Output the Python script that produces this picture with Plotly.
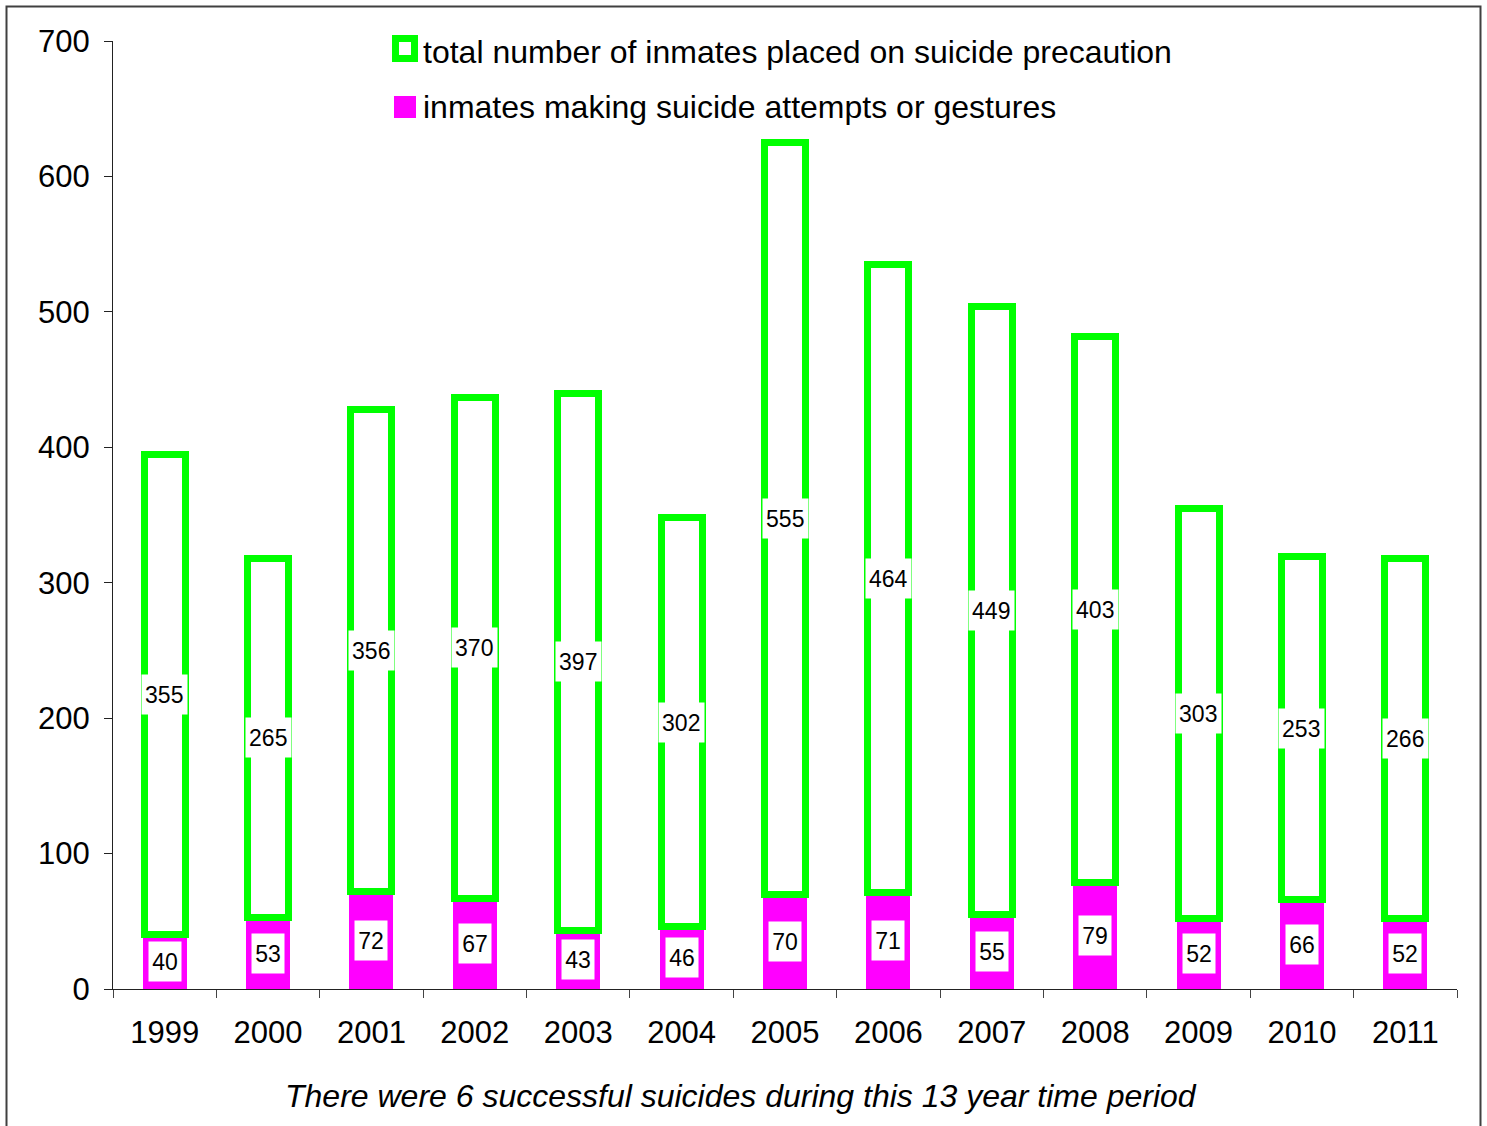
import plotly.graph_objects as go

# ---- data ----
years = ["1999", "2000", "2001", "2002", "2003", "2004", "2005",
         "2006", "2007", "2008", "2009", "2010", "2011"]
attempts = [40, 53, 72, 67, 43, 46, 70, 71, 55, 79, 52, 66, 52]
precaution = [355, 265, 356, 370, 397, 302, 555, 464, 449, 403, 303, 253, 266]
y_ticks = [0, 100, 200, 300, 400, 500, 600, 700]

legend_names = ["total number of inmates placed on suicide precaution",
                "inmates making suicide attempts or gestures"]
footer = "There were 6 successful suicides during this 13 year time period"

# ---- layout constants (pixels) ----
W, H = 1487, 1126
ML, MR, MT, MB = 113, 30, 41, 137
PW, PH = W - ML - MR, H - MT - MB
FONT = "Liberation Sans, Arial, sans-serif"
GREEN = "#00FF00"
MAGENTA = "#FF00FF"


def px(x):
    return (x - ML) / PW


def py(y):
    return (H - MB - y) / PH


fig = go.Figure()
fig.add_bar(x=years, y=attempts, name=legend_names[1], width=0.397,
            marker=dict(color=MAGENTA, line=dict(color=MAGENTA, width=3)))
fig.add_bar(x=years, y=precaution, name=legend_names[0], width=0.397,
            marker=dict(color="white", line=dict(color=GREEN, width=7)))

annotations = []


def label(i, y, val):
    t = str(val)
    annotations.append(dict(x=i, y=y, xref="x", yref="y", text=t, showarrow=False,
                            font=dict(family=FONT, size=23, color="black"),
                            bgcolor="white", borderpad=0,
                            width=len(t) * 12.5 + 7, height=39,
                            xanchor="center", yanchor="middle"))


for i, (a, p) in enumerate(zip(attempts, precaution)):
    label(i, a / 2, a)
    label(i, a + p / 2, p)

# custom legend
shapes = [
    dict(type="rect", xref="paper", yref="paper",
         x0=px(395.5), x1=px(414.5), y0=py(58.5), y1=py(38.5),
         line=dict(color=GREEN, width=7), fillcolor="white"),
    dict(type="rect", xref="paper", yref="paper",
         x0=px(394), x1=px(416), y0=py(118), y1=py(96),
         line=dict(width=0), fillcolor=MAGENTA),
    # outer frame
    dict(type="rect", xref="paper", yref="paper",
         x0=px(6.5), x1=px(1480.5), y0=py(1135), y1=py(6.5),
         line=dict(color="#404040", width=2), fillcolor="rgba(0,0,0,0)"),
]
annotations.append(dict(x=px(421), y=py(52), xref="paper", yref="paper",
                        text=legend_names[0], showarrow=False,
                        xanchor="left", yanchor="middle",
                        font=dict(family=FONT, size=32, color="black")))
annotations.append(dict(x=px(421), y=py(107), xref="paper", yref="paper",
                        text=legend_names[1], showarrow=False,
                        xanchor="left", yanchor="middle",
                        font=dict(family=FONT, size=32, color="black")))
annotations.append(dict(x=px(741), y=py(1096), xref="paper", yref="paper",
                        text=footer, showarrow=False,
                        xanchor="center", yanchor="middle",
                        font=dict(family=FONT, size=32, color="black", style="italic")))

fig.update_layout(
    width=W, height=H,
    margin=dict(l=ML, r=MR, t=MT, b=MB, pad=0),
    barmode="stack",
    showlegend=False,
    paper_bgcolor="white", plot_bgcolor="white",
    font=dict(family=FONT, size=31, color="black"),
    annotations=annotations,
    shapes=shapes,
    xaxis=dict(type="category", categoryorder="array", categoryarray=years,
               range=[-0.5, len(years) - 0.5], autorange=False,
               showline=True, linecolor="#222", linewidth=1,
               ticks="outside", tickson="boundaries", ticklen=8, tickcolor="#444",
               tickwidth=1, showgrid=False, zeroline=False, tickangle=0,
               tickfont=dict(family=FONT, size=31), ticklabelstandoff=16),
    yaxis=dict(range=[0, 700], autorange=False, tickvals=y_ticks, showline=True,
               linecolor="#222", linewidth=1, ticks="outside", ticklen=8,
               tickcolor="#222", showgrid=False, zeroline=False,
               tickfont=dict(family=FONT, size=31), ticklabelstandoff=8),
)

fig.write_html("out.html", config={"displayModeBar": False},
               post_script="document.body.style.margin='0';")
